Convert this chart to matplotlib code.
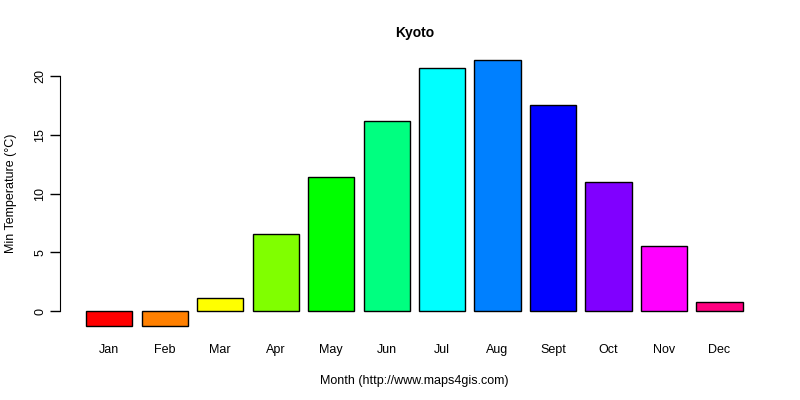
import matplotlib
matplotlib.use("Agg")
import matplotlib.pyplot as plt
import numpy as np

months = ["Jan", "Feb", "Mar", "Apr", "May", "Jun", "Jul", "Aug", "Sept", "Oct", "Nov", "Dec"]
min_temp = [-1.3, -1.3, 1.1, 6.6, 11.4, 16.2, 20.7, 21.4, 17.5, 11.0, 5.5, 0.75]
colors = ["#FF0000", "#FF8000", "#FFFF00", "#80FF00", "#00FF00", "#00FF80",
          "#00FFFF", "#0080FF", "#0000FF", "#8000FF", "#FF00FF", "#FF0080"]
yticks = [0, 5, 10, 15, 20]

plt.rcParams['font.family'] = ['Liberation Sans', 'DejaVu Sans']

fig = plt.figure(figsize=(8, 4), dpi=100)
ax = fig.add_axes([0.075, 0.1575, 0.886, 0.72])

# R barplot layout: width 1, space 0.2
centers = 0.7 + 1.2 * np.arange(len(months))
ax.bar(centers, min_temp, width=1.0, color=colors, edgecolor="black", linewidth=1.0)

lo, hi = 0.2, centers[-1] + 0.5
pad = 0.04 * (hi - lo)
ax.set_xlim(lo - pad, hi + pad)
ymin, ymax = min(min(min_temp), 0), max(min_temp)
ypad = 0.04 * (ymax - ymin)
ax.set_ylim(ymin - ypad, ymax + ypad)

for s in ["top", "right", "bottom"]:
    ax.spines[s].set_visible(False)
ax.spines["left"].set_bounds(yticks[0], yticks[-1])

ax.set_yticks(yticks)
ax.set_yticklabels([str(t) for t in yticks], rotation=90, va="center")
ax.tick_params(axis="y", length=7, width=1, labelsize=9, pad=3)
ax.set_xticks(centers)
ax.set_xticklabels(months)
ax.tick_params(axis="x", length=0, labelsize=9, pad=5)

ax.set_xlabel("Month (http://www.maps4gis.com)", fontsize=9, labelpad=14)
ax.set_ylabel("Min Temperature (°C)", fontsize=9, labelpad=12.5)
ax.set_title("Kyoto", fontsize=10, fontweight="bold", pad=9)

fig.savefig("out.png", dpi=100)
